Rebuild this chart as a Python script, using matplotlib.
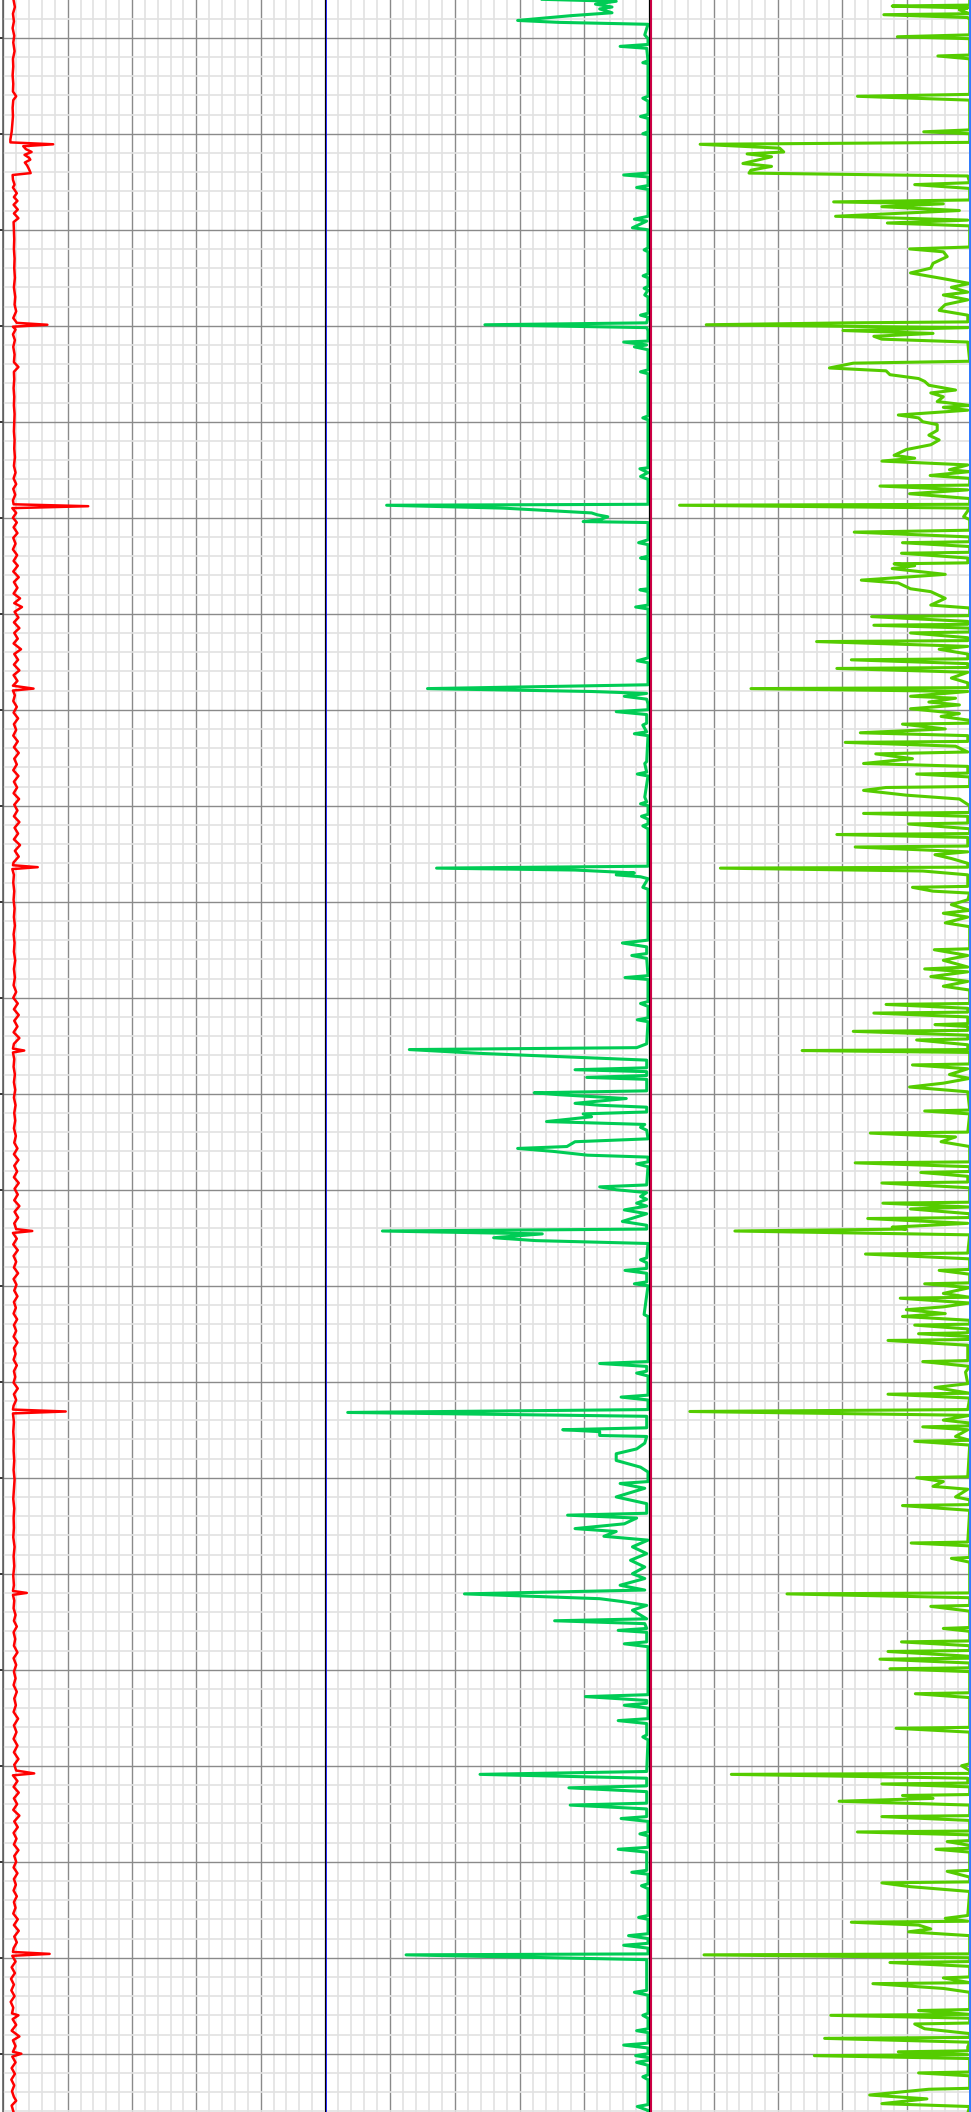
import numpy as np
import matplotlib
matplotlib.use('Agg')
import matplotlib.pyplot as plt
from matplotlib.ticker import MultipleLocator

# depth window of the log (m)
top_depth = 1006.07
base_depth = 1226.07

# track 1 - red curve (depth, value)
red_curve = [
    (1006.1, 0.32), (1006.8, 0.36), (1007.5, 0.30), (1008.3, 0.33), (1009.0, 0.29),
    (1009.8, 0.34), (1010.5, 0.31), (1011.4, 0.35), (1012.2, 0.30), (1013.0, 0.31),
    (1013.9, 0.29), (1014.8, 0.31), (1015.6, 0.30), (1016.1, 0.40), (1016.5, 0.31),
    (1017.3, 0.29), (1018.2, 0.30), (1019.0, 0.28), (1019.8, 0.26), (1020.6, 0.22),
    (1020.9, 0.22), (1021.1, 1.55), (1021.3, 0.62), (1021.6, 0.70), (1021.9, 0.88),
    (1022.2, 0.66), (1022.5, 0.80), (1022.7, 0.84), (1023.0, 0.67), (1023.3, 0.74),
    (1023.7, 0.80), (1024.1, 0.85), (1024.3, 0.29), (1024.8, 0.30), (1025.3, 0.35),
    (1025.6, 0.30), (1026.2, 0.42), (1026.6, 0.33), (1027.0, 0.44), (1027.4, 0.32),
    (1027.9, 0.45), (1028.3, 0.33), (1028.8, 0.47), (1029.2, 0.32), (1030.0, 0.33),
    (1031.0, 0.34), (1032.0, 0.33), (1033.0, 0.35), (1034.0, 0.34), (1035.0, 0.36),
    (1036.0, 0.33), (1037.0, 0.37), (1037.8, 0.35), (1038.5, 0.40), (1039.2, 0.31),
    (1039.7, 0.42), (1039.9, 1.37), (1040.1, 0.30), (1040.4, 0.38), (1040.9, 0.30),
    (1041.5, 0.36), (1042.2, 0.31), (1043.0, 0.35), (1043.8, 0.33), (1044.3, 0.47),
    (1044.8, 0.33), (1045.6, 0.34), (1046.5, 0.32), (1047.4, 0.34), (1048.3, 0.33),
    (1049.2, 0.35), (1050.1, 0.34), (1051.0, 0.33), (1051.9, 0.35), (1052.8, 0.34),
    (1053.7, 0.36), (1054.6, 0.33), (1055.3, 0.38), (1055.9, 0.32), (1056.5, 0.40),
    (1057.0, 0.31), (1057.6, 0.37), (1058.2, 0.30), (1058.6, 0.32), (1058.8, 2.64),
    (1059.0, 0.28), (1059.5, 0.40), (1060.0, 0.30), (1060.5, 0.42), (1061.0, 0.32),
    (1061.6, 0.44), (1062.1, 0.31), (1062.7, 0.38), (1063.3, 0.30), (1063.9, 0.43),
    (1064.5, 0.32), (1065.0, 0.45), (1065.6, 0.31), (1066.2, 0.48), (1066.7, 0.33),
    (1067.3, 0.44), (1067.9, 0.32), (1068.4, 0.52), (1068.9, 0.34), (1069.3, 0.58),
    (1069.8, 0.35), (1070.4, 0.47), (1070.9, 0.33), (1071.5, 0.50), (1072.0, 0.34),
    (1072.6, 0.45), (1073.1, 0.32), (1073.7, 0.55), (1074.2, 0.34), (1074.8, 0.46),
    (1075.3, 0.33), (1075.9, 0.50), (1076.4, 0.32), (1077.0, 0.44), (1077.5, 0.30),
    (1077.8, 0.94), (1078.0, 0.30), (1078.5, 0.36), (1079.1, 0.31), (1079.7, 0.42),
    (1080.3, 0.32), (1080.9, 0.46), (1081.5, 0.33), (1082.1, 0.40), (1082.7, 0.31),
    (1083.3, 0.45), (1083.9, 0.33), (1084.5, 0.48), (1085.1, 0.34), (1085.7, 0.42),
    (1086.3, 0.31), (1086.9, 0.47), (1087.5, 0.33), (1088.1, 0.43), (1088.7, 0.32),
    (1089.3, 0.49), (1089.9, 0.34), (1090.5, 0.44), (1091.1, 0.33), (1091.7, 0.50),
    (1092.3, 0.35), (1092.9, 0.46), (1093.5, 0.33), (1094.1, 0.52), (1094.7, 0.36),
    (1095.3, 0.48), (1095.9, 0.32), (1096.2, 0.30), (1096.4, 1.07), (1096.6, 0.28),
    (1097.2, 0.33), (1098.0, 0.31), (1098.9, 0.34), (1099.8, 0.32), (1100.7, 0.35),
    (1101.6, 0.33), (1102.5, 0.36), (1103.4, 0.32), (1104.3, 0.35), (1105.2, 0.33),
    (1106.1, 0.37), (1107.0, 0.33), (1107.9, 0.36), (1108.7, 0.32), (1109.4, 0.40),
    (1110.0, 0.31), (1110.6, 0.45), (1111.2, 0.33), (1111.8, 0.48), (1112.4, 0.34),
    (1113.0, 0.44), (1113.6, 0.32), (1114.2, 0.50), (1114.8, 0.33), (1115.3, 0.30),
    (1115.5, 0.65), (1115.7, 0.30), (1116.4, 0.34), (1117.2, 0.32), (1118.0, 0.36),
    (1118.8, 0.33), (1119.6, 0.37), (1120.4, 0.33), (1121.2, 0.38), (1122.0, 0.34),
    (1122.8, 0.37), (1123.6, 0.33), (1124.4, 0.39), (1125.1, 0.34), (1125.7, 0.44),
    (1126.3, 0.33), (1126.9, 0.47), (1127.5, 0.34), (1128.1, 0.43), (1128.7, 0.33),
    (1129.3, 0.48), (1129.9, 0.35), (1130.5, 0.45), (1131.1, 0.34), (1131.7, 0.50),
    (1132.3, 0.35), (1132.9, 0.46), (1133.5, 0.34), (1134.1, 0.40), (1134.3, 0.90),
    (1134.5, 0.30), (1135.1, 0.42), (1135.7, 0.31), (1136.3, 0.45), (1136.9, 0.32),
    (1137.5, 0.40), (1138.1, 0.33), (1138.7, 0.46), (1139.3, 0.32), (1139.9, 0.41),
    (1140.5, 0.34), (1141.1, 0.44), (1141.7, 0.33), (1142.3, 0.39), (1142.9, 0.32),
    (1143.5, 0.43), (1144.1, 0.33), (1144.7, 0.40), (1145.3, 0.32), (1145.9, 0.44),
    (1146.5, 0.33), (1147.1, 0.38), (1147.7, 0.32), (1148.3, 0.42), (1148.9, 0.33),
    (1149.5, 0.37), (1150.1, 0.32), (1150.7, 0.45), (1151.3, 0.33), (1151.9, 0.40),
    (1152.5, 0.32), (1152.9, 0.30), (1153.1, 1.94), (1153.3, 0.30), (1154.2, 0.33),
    (1155.2, 0.31), (1156.2, 0.33), (1157.2, 0.32), (1158.2, 0.34), (1159.2, 0.32),
    (1160.2, 0.35), (1161.2, 0.33), (1162.2, 0.31), (1163.2, 0.34), (1164.2, 0.32),
    (1165.2, 0.33), (1166.2, 0.31), (1167.2, 0.35), (1168.2, 0.32), (1169.2, 0.34),
    (1170.2, 0.31), (1171.2, 0.33), (1171.8, 0.30), (1172.0, 0.73), (1172.2, 0.30),
    (1172.8, 0.34), (1173.6, 0.32), (1174.3, 0.38), (1174.9, 0.33), (1175.5, 0.42),
    (1176.1, 0.32), (1176.8, 0.37), (1177.5, 0.33), (1178.2, 0.44), (1178.8, 0.32),
    (1179.5, 0.40), (1180.2, 0.33), (1180.9, 0.38), (1181.6, 0.32), (1182.3, 0.42),
    (1183.0, 0.34), (1183.7, 0.39), (1184.4, 0.32), (1185.1, 0.46), (1185.8, 0.33),
    (1186.5, 0.41), (1187.2, 0.32), (1187.9, 0.44), (1188.6, 0.33), (1189.3, 0.47),
    (1189.9, 0.34), (1190.5, 0.40), (1190.8, 0.96), (1191.0, 0.30), (1191.6, 0.44),
    (1192.2, 0.32), (1192.8, 0.48), (1193.4, 0.33), (1194.0, 0.43), (1194.6, 0.31),
    (1195.2, 0.50), (1195.8, 0.34), (1196.4, 0.45), (1197.0, 0.32), (1197.6, 0.41),
    (1198.2, 0.33), (1198.8, 0.47), (1199.4, 0.34), (1200.0, 0.40), (1200.6, 0.32),
    (1201.2, 0.44), (1201.8, 0.33), (1202.4, 0.39), (1203.0, 0.32), (1203.6, 0.42),
    (1204.2, 0.33), (1204.8, 0.38), (1205.4, 0.31), (1206.0, 0.45), (1206.6, 0.33),
    (1207.2, 0.48), (1207.8, 0.34), (1208.4, 0.42), (1209.0, 0.32), (1209.4, 0.30),
    (1209.6, 1.44), (1209.8, 0.28), (1210.4, 0.38), (1211.0, 0.26), (1211.6, 0.36),
    (1212.2, 0.24), (1212.8, 0.33), (1213.4, 0.25), (1214.0, 0.35), (1214.6, 0.23),
    (1215.2, 0.31), (1215.8, 0.27), (1216.0, 0.47), (1216.4, 0.29), (1217.0, 0.40),
    (1217.6, 0.26), (1218.2, 0.50), (1218.6, 0.30), (1219.2, 0.38), (1219.8, 0.30),
    (1220.0, 0.56), (1220.3, 0.28), (1220.9, 0.38), (1221.5, 0.26), (1222.1, 0.36),
    (1222.7, 0.25), (1223.3, 0.34), (1223.9, 0.27), (1224.5, 0.33), (1224.9, 0.40),
    (1225.4, 0.26), (1226.1, 0.32),
]

# track 2 - green curve (depth, value)
green_curve = [
    (1006.0, 6.70), (1006.2, 8.98), (1006.5, 8.34), (1006.8, 8.85), (1007.0, 8.47),
    (1007.4, 8.85), (1007.7, 7.59), (1008.2, 5.94), (1008.4, 7.21), (1008.6, 9.96),
    (1009.7, 9.86), (1010.1, 9.96), (1010.7, 9.96), (1010.9, 9.10), (1011.1, 9.92),
    (1012.4, 9.96), (1012.6, 9.80), (1012.7, 9.96), (1016.1, 9.96), (1016.3, 9.80),
    (1016.6, 9.96), (1018.0, 9.96), (1018.2, 9.73), (1018.4, 9.96), (1019.8, 9.96),
    (1020.0, 9.80), (1020.1, 9.96), (1024.1, 9.96), (1024.3, 9.21), (1024.5, 9.96),
    (1025.4, 9.96), (1025.6, 9.61), (1025.8, 9.96), (1028.6, 9.96), (1028.9, 9.54),
    (1029.1, 9.92), (1029.8, 9.48), (1030.0, 9.96), (1031.9, 9.96), (1032.1, 9.84),
    (1032.3, 9.96), (1034.6, 9.96), (1034.8, 9.81), (1035.0, 9.96), (1035.9, 9.96),
    (1036.1, 9.84), (1036.3, 9.96), (1036.8, 9.86), (1037.0, 9.96), (1038.7, 9.96),
    (1038.9, 9.73), (1039.1, 9.96), (1039.7, 9.92), (1039.9, 4.93), (1040.2, 9.92),
    (1040.5, 9.96), (1041.6, 9.96), (1041.7, 9.21), (1042.0, 9.92), (1042.2, 9.54),
    (1042.5, 9.96), (1044.6, 9.96), (1044.8, 9.73), (1045.0, 9.96), (1049.4, 9.96),
    (1049.6, 9.80), (1049.8, 9.96), (1054.8, 9.96), (1054.9, 9.71), (1055.3, 9.96),
    (1055.7, 9.73), (1056.0, 9.96), (1058.6, 9.96), (1058.7, 1.90), (1059.0, 5.50),
    (1059.5, 8.22), (1059.7, 8.40), (1059.9, 8.72), (1060.2, 8.47), (1060.4, 7.96),
    (1060.5, 9.96), (1062.3, 9.96), (1062.6, 9.67), (1062.8, 9.96), (1064.0, 9.96),
    (1064.2, 9.73), (1064.3, 9.96), (1067.4, 9.96), (1067.5, 9.71), (1067.7, 9.96),
    (1069.1, 9.96), (1069.3, 9.58), (1069.5, 9.96), (1074.6, 9.96), (1074.9, 9.63),
    (1075.1, 9.96), (1077.4, 9.96), (1077.8, 3.16), (1078.1, 8.22), (1078.3, 9.92),
    (1078.6, 9.23), (1078.9, 9.92), (1079.4, 9.96), (1080.0, 9.96), (1080.2, 8.98),
    (1080.5, 9.92), (1081.4, 9.92), (1081.6, 9.80), (1082.3, 9.92), (1082.5, 9.54),
    (1082.7, 9.96), (1085.4, 9.92), (1085.6, 9.86), (1086.5, 9.92), (1086.7, 9.63),
    (1086.9, 9.96), (1089.1, 9.86), (1089.6, 9.92), (1089.8, 9.73), (1090.0, 9.96),
    (1090.9, 9.96), (1091.1, 9.76), (1091.4, 9.96), (1091.9, 9.96), (1092.1, 9.80),
    (1092.4, 9.96), (1096.3, 9.96), (1096.5, 3.44), (1096.7, 7.71), (1097.0, 9.54),
    (1097.2, 8.98), (1097.4, 9.73), (1097.6, 9.96), (1098.5, 9.80), (1098.7, 9.96),
    (1104.0, 9.96), (1104.3, 9.17), (1104.7, 9.92), (1105.4, 9.92), (1105.6, 9.46),
    (1105.9, 9.92), (1107.7, 9.96), (1107.9, 9.25), (1108.1, 9.96), (1110.4, 9.96),
    (1110.6, 9.73), (1110.9, 9.96), (1112.1, 9.96), (1112.3, 9.63), (1112.5, 9.96),
    (1114.8, 9.92), (1115.2, 9.61), (1115.4, 2.60), (1115.8, 4.80), (1116.2, 7.70),
    (1116.5, 9.92), (1117.3, 9.92), (1117.5, 7.71), (1117.7, 9.92), (1118.1, 9.92),
    (1118.3, 8.07), (1118.5, 9.92), (1119.7, 9.92), (1119.9, 6.45), (1120.1, 7.21),
    (1120.5, 9.29), (1121.0, 7.71), (1121.2, 8.47), (1121.4, 9.92), (1121.9, 9.92),
    (1122.1, 7.96), (1122.4, 8.22), (1122.9, 6.83), (1123.2, 9.86), (1123.5, 9.73),
    (1123.8, 9.92), (1124.7, 9.96), (1125.0, 7.71), (1125.5, 7.46), (1125.7, 5.94),
    (1126.0, 7.02), (1126.4, 8.09), (1126.6, 9.96), (1127.1, 9.96), (1127.3, 9.61),
    (1127.6, 9.96), (1129.5, 9.92), (1129.7, 8.47), (1130.0, 8.98), (1130.3, 9.92),
    (1130.7, 9.73), (1131.0, 9.92), (1131.4, 9.61), (1131.7, 9.92), (1132.1, 9.23),
    (1132.5, 9.92), (1133.3, 9.17), (1133.7, 9.92), (1134.1, 9.92), (1134.3, 1.77),
    (1134.6, 6.70), (1135.0, 5.20), (1135.3, 6.50), (1135.6, 9.96), (1137.1, 9.92),
    (1137.3, 9.73), (1137.6, 9.92), (1138.2, 9.92), (1138.4, 9.25), (1138.7, 9.92),
    (1139.6, 9.92), (1139.8, 9.54), (1140.0, 9.96), (1143.0, 9.84), (1143.2, 9.96),
    (1147.9, 9.96), (1148.1, 8.47), (1148.4, 9.92), (1148.9, 9.92), (1149.1, 9.61),
    (1149.4, 9.96), (1151.4, 9.96), (1151.6, 9.13), (1151.9, 9.96), (1152.9, 9.96),
    (1153.2, 0.70), (1153.6, 9.92), (1154.8, 9.92), (1155.0, 7.33), (1155.2, 8.47),
    (1155.6, 8.47), (1155.7, 9.92), (1156.4, 9.86), (1157.0, 9.61), (1157.5, 8.98),
    (1158.2, 8.98), (1158.9, 9.73), (1159.4, 9.96), (1160.4, 9.96), (1160.6, 9.10),
    (1161.1, 9.86), (1162.0, 8.98), (1162.7, 9.92), (1163.7, 9.92), (1163.9, 7.48),
    (1164.2, 9.61), (1164.8, 9.23), (1165.3, 7.71), (1165.6, 8.98), (1166.1, 8.60),
    (1166.5, 9.96), (1167.2, 9.48), (1167.9, 9.92), (1168.6, 9.42), (1169.3, 9.86),
    (1170.0, 9.48), (1170.5, 9.86), (1171.2, 9.10), (1171.7, 9.86), (1172.1, 4.30),
    (1172.6, 8.47), (1172.9, 9.17), (1173.3, 9.92), (1173.8, 9.48), (1174.7, 9.92),
    (1174.9, 7.08), (1175.2, 9.86), (1175.7, 9.92), (1175.9, 9.04), (1176.1, 9.92),
    (1177.1, 9.92), (1177.3, 9.23), (1177.6, 9.96), (1182.6, 9.96), (1182.8, 8.03),
    (1183.2, 9.92), (1183.5, 9.92), (1183.7, 9.23), (1184.0, 9.96), (1185.1, 9.96),
    (1185.3, 9.04), (1185.6, 9.92), (1186.8, 9.92), (1187.0, 9.80), (1187.3, 9.96),
    (1190.6, 9.92), (1190.9, 4.78), (1191.3, 9.92), (1192.1, 9.92), (1192.3, 7.52),
    (1192.7, 9.92), (1193.9, 9.92), (1194.1, 7.56), (1194.5, 9.92), (1195.3, 9.92),
    (1195.5, 9.13), (1195.8, 9.96), (1196.9, 9.96), (1197.1, 9.71), (1197.3, 9.96),
    (1198.5, 9.96), (1198.7, 9.04), (1199.0, 9.92), (1200.9, 9.92), (1201.1, 9.46),
    (1201.3, 9.96), (1202.3, 9.96), (1202.5, 9.76), (1202.8, 9.96), (1205.6, 9.96),
    (1205.8, 9.67), (1206.0, 9.96), (1207.5, 9.96), (1207.7, 9.36), (1208.0, 9.96),
    (1208.5, 9.96), (1208.7, 9.21), (1209.0, 9.96), (1209.6, 9.96), (1209.7, 2.50),
    (1210.2, 9.92), (1213.4, 9.92), (1213.6, 9.54), (1213.9, 9.96), (1215.8, 9.96),
    (1216.0, 9.80), (1216.3, 9.96), (1217.4, 9.96), (1217.6, 9.61), (1217.8, 9.96),
    (1218.9, 9.96), (1219.1, 9.21), (1219.4, 9.96), (1220.0, 9.96), (1220.2, 9.58),
    (1220.4, 9.96), (1220.7, 9.96), (1220.9, 9.61), (1221.2, 9.96), (1222.2, 9.96),
    (1222.4, 9.80), (1222.7, 9.96), (1225.3, 9.96), (1225.5, 9.63), (1225.9, 9.96),
    (1226.2, 9.96),
]

# track 3 - lime curve (depth, value)
lime_curve = [
    (1006.0, 9.96), (1006.6, 9.96), (1006.7, 7.55), (1006.9, 9.90), (1007.1, 9.64),
    (1007.5, 9.96), (1007.6, 7.29), (1007.9, 9.90), (1008.1, 9.96), (1009.7, 9.96),
    (1009.9, 7.71), (1010.1, 9.96), (1011.8, 9.96), (1011.9, 8.97), (1012.2, 9.96),
    (1015.9, 9.96), (1016.1, 6.47), (1016.5, 9.96), (1019.6, 9.96), (1019.8, 8.53),
    (1020.0, 9.96), (1020.9, 9.96), (1021.1, 1.58), (1021.5, 4.05), (1021.9, 4.18),
    (1022.1, 3.04), (1022.4, 3.80), (1022.7, 3.42), (1023.1, 2.91), (1023.4, 3.80),
    (1023.8, 3.16), (1024.1, 3.10), (1024.4, 9.90), (1025.1, 9.96), (1025.3, 8.25),
    (1025.7, 9.96), (1026.9, 9.96), (1027.1, 5.73), (1027.3, 9.14), (1027.6, 7.23),
    (1028.0, 9.64), (1028.6, 5.79), (1029.0, 9.90), (1029.3, 7.40), (1029.6, 9.96),
    (1031.8, 9.96), (1032.0, 8.09), (1032.3, 9.14), (1032.8, 9.26), (1033.5, 8.82),
    (1034.0, 8.75), (1034.5, 8.12), (1035.1, 9.14), (1035.6, 9.96), (1036.0, 9.39),
    (1036.5, 9.90), (1036.8, 9.14), (1037.3, 9.90), (1037.8, 9.20), (1038.4, 9.01),
    (1038.9, 9.90), (1039.6, 9.90), (1039.7, 6.19), (1039.9, 1.77), (1040.2, 9.90),
    (1040.5, 6.02), (1040.8, 8.82), (1041.1, 6.98), (1041.4, 7.23), (1041.7, 9.90),
    (1043.7, 9.96), (1043.9, 6.34), (1044.4, 5.60), (1044.7, 7.36), (1045.1, 7.48),
    (1045.5, 8.37), (1045.8, 8.56), (1046.2, 8.69), (1046.7, 9.52), (1047.0, 8.75),
    (1047.4, 9.14), (1047.9, 8.95), (1048.3, 9.96), (1048.5, 9.14), (1048.8, 9.90),
    (1049.3, 7.74), (1049.6, 8.37), (1050.0, 8.50), (1050.3, 8.95), (1050.9, 8.95),
    (1051.4, 8.69), (1051.9, 9.01), (1052.4, 8.75), (1052.9, 7.99), (1053.5, 7.61),
    (1053.8, 8.25), (1054.1, 7.23), (1054.5, 9.90), (1055.0, 9.33), (1055.2, 9.96),
    (1055.6, 8.73), (1055.9, 9.96), (1056.6, 9.96), (1056.7, 7.17), (1057.1, 9.90),
    (1057.5, 8.09), (1058.0, 9.96), (1058.6, 9.96), (1058.7, 0.94), (1059.0, 9.96),
    (1059.9, 9.77), (1060.2, 9.96), (1061.3, 9.96), (1061.5, 6.37), (1062.0, 9.96),
    (1062.5, 9.96), (1062.6, 7.87), (1063.0, 9.96), (1063.6, 9.96), (1063.7, 7.84),
    (1064.2, 9.90), (1064.7, 9.90), (1064.8, 7.61), (1065.0, 8.25), (1065.3, 7.55),
    (1065.9, 9.20), (1066.5, 6.59), (1066.8, 7.74), (1067.4, 8.12), (1067.7, 8.75),
    (1068.4, 9.20), (1069.1, 8.75), (1069.4, 9.96), (1070.2, 9.96), (1070.3, 6.91),
    (1070.8, 9.90), (1071.1, 9.90), (1071.2, 6.98), (1071.5, 9.96), (1071.9, 9.96),
    (1072.0, 8.12), (1072.5, 9.90), (1072.8, 9.90), (1072.9, 5.20), (1073.4, 9.90),
    (1073.7, 9.01), (1074.2, 9.90), (1074.7, 9.90), (1074.8, 6.28), (1075.2, 9.90),
    (1075.6, 9.90), (1075.7, 5.83), (1076.1, 9.90), (1076.7, 9.39), (1077.2, 9.90),
    (1077.7, 9.90), (1077.8, 3.16), (1078.1, 9.90), (1078.6, 8.12), (1078.8, 9.52),
    (1079.2, 8.69), (1079.5, 9.64), (1079.9, 8.12), (1080.4, 9.64), (1080.7, 9.07),
    (1081.1, 9.96), (1081.4, 9.96), (1081.5, 7.87), (1082.0, 9.20), (1082.4, 6.56),
    (1082.7, 9.90), (1083.3, 9.90), (1083.4, 6.09), (1083.8, 9.52), (1084.4, 9.90),
    (1084.6, 7.04), (1085.1, 8.18), (1085.6, 6.66), (1085.9, 9.90), (1086.6, 9.90),
    (1086.7, 8.31), (1087.0, 9.96), (1088.0, 9.96), (1088.1, 7.36), (1088.4, 6.66),
    (1088.9, 7.99), (1089.3, 9.64), (1090.0, 9.96), (1090.7, 9.96), (1090.8, 6.66),
    (1091.1, 9.90), (1091.8, 9.90), (1091.9, 8.06), (1092.4, 9.96), (1092.9, 9.96),
    (1093.0, 5.83), (1093.3, 9.90), (1094.2, 9.90), (1094.3, 6.40), (1094.8, 9.90),
    (1095.1, 8.88), (1095.5, 9.39), (1096.0, 9.90), (1096.4, 9.90), (1096.5, 2.21),
    (1096.8, 8.50), (1097.2, 9.90), (1097.9, 9.90), (1098.4, 9.90), (1098.5, 8.18),
    (1098.9, 8.82), (1099.1, 9.96), (1099.8, 9.90), (1100.3, 9.39), (1100.9, 9.96),
    (1101.2, 9.14), (1101.6, 9.90), (1102.2, 9.20), (1102.6, 9.96), (1104.9, 9.96),
    (1105.0, 8.86), (1105.6, 9.90), (1106.1, 9.14), (1106.8, 9.90), (1107.0, 8.56),
    (1107.3, 9.90), (1107.8, 8.75), (1108.3, 9.90), (1108.8, 9.14), (1109.2, 9.96),
    (1110.6, 9.96), (1110.7, 7.36), (1111.1, 9.90), (1111.5, 9.90), (1111.6, 6.98),
    (1112.0, 9.90), (1112.7, 9.90), (1112.8, 8.88), (1113.0, 9.90), (1113.4, 9.90),
    (1113.5, 6.34), (1113.9, 9.90), (1114.3, 9.90), (1114.4, 8.31), (1114.9, 9.90),
    (1115.4, 9.90), (1115.5, 4.75), (1115.7, 9.96), (1116.9, 9.96), (1117.0, 8.18),
    (1117.4, 9.90), (1118.0, 9.33), (1118.4, 9.96), (1118.9, 9.14), (1119.3, 8.09),
    (1119.8, 9.90), (1121.7, 9.96), (1121.8, 8.56), (1122.1, 9.96), (1124.0, 9.90),
    (1124.1, 6.87), (1124.5, 9.52), (1125.0, 9.07), (1125.5, 9.96), (1127.1, 9.96),
    (1127.2, 6.40), (1127.6, 9.96), (1128.1, 9.96), (1128.2, 8.44), (1128.6, 9.90),
    (1129.2, 9.90), (1129.3, 7.23), (1129.8, 9.96), (1131.3, 9.96), (1131.4, 7.26),
    (1131.8, 9.96), (1132.0, 8.12), (1132.5, 9.96), (1132.9, 9.96), (1133.0, 6.79),
    (1133.5, 9.90), (1133.9, 7.55), (1134.1, 7.99), (1134.3, 2.66), (1134.7, 9.96),
    (1136.6, 9.90), (1136.7, 6.72), (1137.2, 9.96), (1138.3, 9.96), (1138.4, 9.01),
    (1138.8, 9.96), (1139.7, 9.96), (1139.8, 8.56), (1140.2, 9.96), (1140.8, 9.14),
    (1141.2, 9.96), (1141.3, 7.80), (1141.8, 9.96), (1142.2, 9.14), (1142.5, 7.99),
    (1142.9, 9.20), (1143.2, 7.87), (1143.6, 9.96), (1144.0, 9.96), (1144.1, 8.25),
    (1144.5, 9.90), (1144.9, 9.90), (1145.0, 8.37), (1145.3, 9.96), (1145.6, 9.96),
    (1145.7, 7.42), (1146.2, 9.90), (1147.8, 9.90), (1147.9, 8.50), (1148.4, 9.96),
    (1149.0, 9.83), (1150.2, 9.90), (1150.6, 8.88), (1151.2, 9.96), (1151.3, 7.42),
    (1151.7, 9.96), (1152.9, 9.90), (1153.1, 1.26), (1153.5, 9.96), (1154.0, 9.14),
    (1154.3, 9.96), (1154.6, 9.96), (1154.7, 8.50), (1155.0, 9.90), (1155.7, 9.52),
    (1156.1, 9.96), (1156.2, 8.25), (1156.6, 9.96), (1159.9, 9.90), (1160.0, 8.31),
    (1160.4, 9.14), (1160.9, 8.82), (1161.2, 9.90), (1162.0, 9.52), (1162.3, 9.96),
    (1162.8, 9.96), (1162.9, 7.87), (1163.4, 9.96), (1166.7, 9.90), (1166.8, 8.14),
    (1167.1, 9.96), (1168.3, 9.96), (1168.4, 9.39), (1168.8, 9.96), (1172.0, 9.96),
    (1172.1, 4.28), (1172.5, 9.96), (1173.3, 9.96), (1173.4, 8.75), (1173.9, 9.96),
    (1175.6, 9.96), (1175.7, 9.14), (1176.0, 9.96), (1177.0, 9.96), (1177.1, 7.84),
    (1177.5, 9.96), (1178.0, 9.96), (1178.1, 7.42), (1178.6, 9.96), (1178.8, 9.96),
    (1178.9, 7.17), (1179.3, 9.96), (1179.8, 9.96), (1179.9, 7.48), (1180.2, 9.96),
    (1182.4, 9.96), (1182.5, 8.27), (1182.9, 9.96), (1186.0, 9.96), (1186.1, 7.67),
    (1186.5, 9.96), (1189.8, 9.96), (1190.0, 9.71), (1190.5, 9.96), (1190.8, 9.96),
    (1190.9, 2.55), (1191.3, 9.90), (1191.8, 9.90), (1191.9, 7.23), (1192.2, 9.96),
    (1193.0, 9.96), (1193.1, 7.87), (1193.4, 8.82), (1193.7, 5.90), (1194.1, 9.96),
    (1195.2, 9.96), (1195.3, 7.23), (1195.7, 9.96), (1196.8, 9.96), (1196.9, 6.47),
    (1197.2, 9.96), (1197.8, 9.96), (1197.9, 9.26), (1198.3, 9.96), (1198.6, 9.96),
    (1198.7, 8.91), (1199.0, 9.96), (1200.9, 9.96), (1201.0, 9.26), (1201.6, 9.96),
    (1202.1, 9.96), (1202.2, 7.23), (1202.6, 8.12), (1203.1, 9.96), (1205.6, 9.90),
    (1205.9, 9.20), (1206.2, 9.90), (1206.3, 6.28), (1206.6, 8.37), (1207.0, 8.75),
    (1207.3, 8.06), (1207.7, 9.96), (1209.6, 9.96), (1209.7, 1.70), (1210.0, 9.96),
    (1210.4, 9.96), (1210.5, 7.48), (1210.9, 9.96), (1212.0, 9.96), (1212.1, 9.14),
    (1212.6, 9.96), (1212.7, 6.95), (1213.2, 9.14), (1213.6, 9.96), (1215.4, 9.96),
    (1215.5, 8.37), (1215.9, 9.96), (1216.0, 5.64), (1216.3, 9.96), (1216.8, 9.96),
    (1216.9, 8.25), (1217.4, 8.56), (1217.9, 9.96), (1218.3, 9.96), (1218.4, 5.45),
    (1218.8, 9.96), (1219.3, 9.90), (1219.7, 9.90), (1219.8, 7.74), (1220.1, 9.90),
    (1220.2, 5.13), (1220.5, 9.96), (1221.9, 9.96), (1222.0, 8.37), (1222.3, 9.96),
    (1223.6, 9.96), (1223.7, 8.69), (1224.3, 6.85), (1224.7, 8.63), (1225.2, 7.23),
    (1225.5, 9.96), (1226.2, 9.90),
]

# constant reference curves at the track edges
ref_depth = [1000.0, 1230.0]
blue_ref = [0.0, 0.0]      # left edge of track 2
crimson_ref = [0.0, 0.0]   # left edge of track 3
sky_ref = [10.0, 10.0]     # right edge of track 3

W, H = 971, 2112
fig = plt.figure(figsize=(W / 100, H / 100), dpi=100, facecolor='white')

# track edges in pixels
edges = [(3.3, 325.0), (325.0, 649.3), (649.3, 971.0)]
axes = []
for i, (x0, x1) in enumerate(edges):
    ax = fig.add_axes([x0 / W, 0, (x1 - x0) / W, 1])
    ax.set_zorder(3 - i)
    ax.patch.set_visible(False)
    ax.set_xlim(0, 10)
    ax.set_ylim(base_depth, top_depth)
    ax.xaxis.set_major_locator(MultipleLocator(2))
    ax.xaxis.set_minor_locator(MultipleLocator(0.4))
    ax.yaxis.set_major_locator(MultipleLocator(10))
    ax.yaxis.set_minor_locator(MultipleLocator(2))
    ax.set_axisbelow(True)
    ax.grid(which='minor', color='#e2e2e2', linewidth=1.2)
    ax.grid(which='major', color='#8a8a8a', linewidth=1.0)
    ax.tick_params(which='both', labelleft=False, labelbottom=False,
                   bottom=False, left=False)
    for s in ['top', 'bottom', 'left']:
        ax.spines[s].set_visible(False)
    ax.spines['right'].set_color('black')
    ax.spines['right'].set_linewidth(0.75)
    axes.append(ax)

ax1, ax2, ax3 = axes

# depth ticks on the left of track 1
ax1.spines['left'].set_visible(True)
ax1.spines['left'].set_color('#555555')
ax1.spines['left'].set_linewidth(1.1)
ax1.tick_params(which='major', left=True, length=2.4, width=1.1, color='black')
ax3.spines['right'].set_visible(False)

d, v = zip(*sorted(red_curve))
ax1.plot(v, d, color='#ff0000', linewidth=1.8)

d, v = zip(*sorted(green_curve))
ax2.plot(v, d, color='#00cc55', linewidth=2.2)
ax2.plot(blue_ref, ref_depth, color='#0000ff', linewidth=2.6)

d, v = zip(*sorted(lime_curve))
ax3.plot(v, d, color='#55cc00', linewidth=2.2)
ax3.plot(crimson_ref, ref_depth, color='#cc0044', linewidth=4.4)
ax3.plot(sky_ref, ref_depth, color='#2f7bff', linewidth=3.6)

fig.savefig('out.png', dpi=100, facecolor='white')
